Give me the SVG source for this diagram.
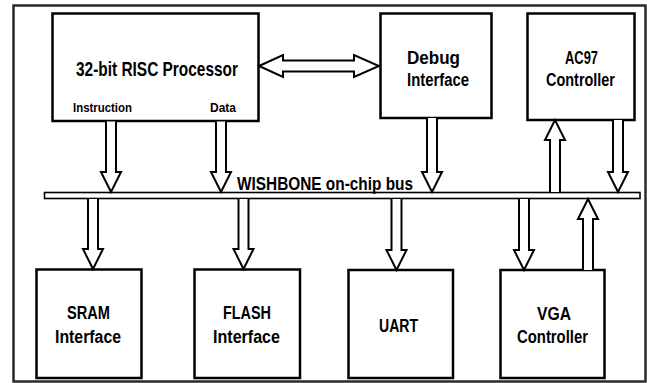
<svg xmlns="http://www.w3.org/2000/svg" width="647" height="383" viewBox="0 0 647 383">
<style>
.frame{fill:#fff;stroke:#2a2a2a;stroke-width:2.5}
.box{fill:#fff;stroke:#000;stroke-width:2.5}
.bus{fill:#fff;stroke:#000;stroke-width:1.6}
.arr{fill:#fff;stroke:#000;stroke-width:2;stroke-linejoin:miter}
text{font-family:"Liberation Sans Narrow","Liberation Sans",Arial,sans-serif;font-weight:bold;fill:#000;text-anchor:middle}
.t18{font-size:21px}
.t16{font-size:17.5px}
.t13{font-size:13.5px}
</style>
<rect class="frame" x="13.5" y="5.5" width="632" height="376"/>

<g id="processor">
<rect class="box" x="52.5" y="13.5" width="206" height="107.5"/>
<text class="t18" x="157" y="76" textLength="162" lengthAdjust="spacingAndGlyphs">32-bit RISC Processor</text>
<text class="t13" x="102.5" y="112" textLength="59" lengthAdjust="spacingAndGlyphs">Instruction</text>
<text class="t13" x="223" y="112" textLength="26" lengthAdjust="spacingAndGlyphs">Data</text>
</g>
<g id="debug">
<rect class="box" x="380.5" y="13.5" width="111" height="104.5"/>
<text class="t16" x="433.5" y="64" textLength="53" lengthAdjust="spacingAndGlyphs">Debug</text>
<text class="t16" x="438" y="86" textLength="62" lengthAdjust="spacingAndGlyphs">Interface</text>
</g>
<g id="ac97">
<rect class="box" x="527.5" y="13.5" width="107" height="106.5"/>
<text class="t16" x="581.5" y="64" textLength="33" lengthAdjust="spacingAndGlyphs">AC97</text>
<text class="t16" x="580.5" y="86" textLength="69" lengthAdjust="spacingAndGlyphs">Controller</text>
</g>
<g id="bus">
<rect class="bus" x="44.5" y="192.5" width="595.5" height="6"/>
<text class="t16" x="325" y="190" textLength="176" lengthAdjust="spacingAndGlyphs">WISHBONE on-chip bus</text>
</g>
<g id="sram">
<rect class="box" x="36.5" y="269.5" width="105" height="108.5"/>
<text class="t16" x="88.5" y="319" textLength="43" lengthAdjust="spacingAndGlyphs">SRAM</text>
<text class="t16" x="88" y="343" textLength="66" lengthAdjust="spacingAndGlyphs">Interface</text>
</g>
<g id="flash">
<rect class="box" x="194.5" y="269.5" width="105.5" height="108.5"/>
<text class="t16" x="247" y="319" textLength="48" lengthAdjust="spacingAndGlyphs">FLASH</text>
<text class="t16" x="246.5" y="343" textLength="67" lengthAdjust="spacingAndGlyphs">Interface</text>
</g>
<g id="uart">
<rect class="box" x="348.5" y="270" width="104.5" height="108"/>
<text class="t16" x="398.5" y="332" textLength="39" lengthAdjust="spacingAndGlyphs">UART</text>
</g>
<g id="vga">
<rect class="box" x="500.5" y="270" width="104" height="108"/>
<text class="t16" x="554" y="320" textLength="34" lengthAdjust="spacingAndGlyphs">VGA</text>
<text class="t16" x="552.5" y="343" textLength="71" lengthAdjust="spacingAndGlyphs">Controller</text>
</g>

<g id="connectors">
<path class="arr" d="M259,66 L283,55 V60.5 H354 V55 L379,66 L354,77 V71.5 H283 V77 Z"/>
<path class="arr" d="M106,121.5 V172 H101 L111,192 L121,172 H116 V121.5"/>
<path class="arr" d="M216,121.5 V172 H211 L221,192 L231,172 H226 V121.5"/>
<path class="arr" d="M427,118 V172 H422 L432,192 L442,172 H437 V118"/>
<path class="arr" d="M550,192 V140 H545 L555,120 L565,140 H560 V192"/>
<path class="arr" d="M613,120 V172 H608 L618,192 L628,172 H623 V120"/>
<path class="arr" d="M88,199 V249 H83 L93,269 L103,249 H98 V199"/>
<path class="arr" d="M238.5,199 V249 H233.5 L243.5,269 L253.5,249 H248.5 V199"/>
<path class="arr" d="M391.5,199 V250 H386.5 L396.5,270 L406.5,250 H401.5 V199"/>
<path class="arr" d="M519,199 V250 H514 L524,270 L534,250 H529 V199"/>
<path class="arr" d="M583,270 V219 H578 L588,199 L598,219 H593 V270"/>
</g>
</svg>
